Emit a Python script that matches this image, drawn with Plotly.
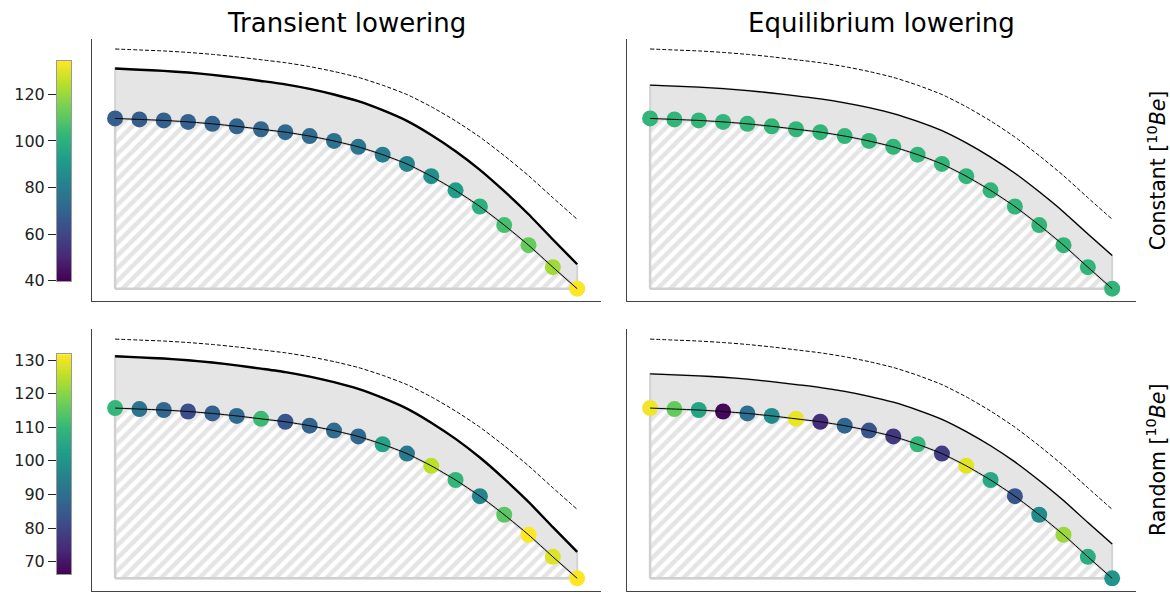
import numpy as np
import plotly.graph_objects as go

# ---- data -------------------------------------------------------------
node_distance = list(range(20))

# bedrock (sample) elevation along the profile
bed_elevation = [174, 173, 172, 170.5, 168.5, 166, 163, 160, 156, 151,
                 145, 137, 127.5, 115, 100.5, 84, 65, 44.5, 22, 0]

# overlying surfaces
surface_initial_top = [245, 244, 243, 241.5, 239.5, 237, 234, 231, 227, 222,
                       216, 208, 198.5, 186, 171.5, 155, 136, 115.5, 93, 71]
surface_transient_top = [225, 223.8, 222.6, 220.9, 218.6, 215.7, 212.3, 208.8, 204.2, 198.5,
                         191.6, 182.4, 171.5, 157.1, 140.5, 121.5, 99.7, 76.1, 50.3, 25]
surface_equilibrium_top = [208, 207, 206, 204.5, 202.5, 200, 197, 194, 190, 185,
                           179, 171, 161.5, 149, 134.5, 118, 99, 78.5, 56, 34]

surface_initial_bottom = [244.5, 243.5, 242.5, 241, 239, 236.5, 233.5, 230.5, 226.5, 221.5,
                          215.5, 207.5, 198, 185.5, 171, 154.5, 135.5, 115, 92.5, 70.5]
surface_transient_bottom = [227, 225.8, 224.6, 222.9, 220.6, 217.7, 214.3, 210.8, 206.2, 200.5,
                            193.6, 184.4, 173.5, 159.1, 142.5, 123.5, 101.7, 78.1, 52.3, 27]
surface_equilibrium_bottom = [209, 208, 207, 205.5, 203.5, 201, 198, 195, 191, 186,
                              180, 172, 162.5, 150, 135.5, 119, 100, 79.5, 57, 35]

# 10Be concentrations of the samples
be10_transient_constant = [68, 68, 68.5, 69, 69.5, 70, 71, 72, 73, 75,
                           77, 79.5, 83, 87, 93, 99, 106, 112, 121, 134]
be10_equilibrium_constant = [102, 102, 102, 102, 102, 102, 102, 102, 102, 102,
                             102, 102, 102, 102, 102, 102, 102, 102, 102, 102]
be10_transient_random = [109.5, 91.1, 87.8, 81.9, 86.5, 88.5, 110.8, 83.9, 87.2, 89.1,
                         87.8, 104.2, 92.4, 125.2, 109.5, 95.7, 114.7, 131.7, 128.5, 131.7]
be10_equilibrium_random = [130.4, 116.0, 104.2, 67.5, 89.8, 97.7, 129.8, 74.7, 87.8, 83.2,
                           77.3, 109.5, 78.0, 129.1, 105.5, 83.9, 97.7, 121.9, 106.8, 100.3]

column_titles = ["Transient lowering", "Equilibrium lowering"]
row_titles = ["Constant [<sup>10</sup><i>Be</i>]", "Random [<sup>10</sup><i>Be</i>]"]

cbar_top_range = (40, 134.4)
cbar_top_ticks = [40, 60, 80, 100, 120]
cbar_bottom_range = (66.2, 131.75)
cbar_bottom_ticks = [70, 80, 90, 100, 110, 120, 130]

# ---- layout geometry (pixels) ----------------------------------------
W, H = 1170, 603
FONT = "DejaVu Sans"


def px_x(a, b):
    return [a / W, b / W]


def px_y(top, bottom):
    return [1 - bottom / H, 1 - top / H]


col_dom = [px_x(92, 601), px_x(627, 1136)]
row_dom = [px_y(37, 305), px_y(333, 601)]
cbar_dom_x = px_x(57, 71)
cbar_dom_y = [px_y(59, 284), px_y(359, 584)]

X_RANGE = [-0.95, 19.98]
Y_RANGE = [-13, 255]

panels = [
    # row, col, initial, surface, thick, be10, crange
    (0, 0, surface_initial_top, surface_transient_top, True,
     be10_transient_constant, cbar_top_range),
    (0, 1, surface_initial_top, surface_equilibrium_top, False,
     be10_equilibrium_constant, cbar_top_range),
    (1, 0, surface_initial_bottom, surface_transient_bottom, True,
     be10_transient_random, cbar_bottom_range),
    (1, 1, surface_initial_bottom, surface_equilibrium_bottom, False,
     be10_equilibrium_random, cbar_bottom_range),
]

fig = go.Figure()
layout_axes = {}

x0, x1 = node_distance[0], node_distance[-1]
SMOOTH = dict(shape="spline", smoothing=0.5)
bed = bed_elevation

for i, (r, c, init, surf, thick, be10, crange) in enumerate(panels):
    n = i + 1
    xa = "x" if n == 1 else f"x{n}"
    ya = "y" if n == 1 else f"y{n}"

    # grey surface-to-base region
    fig.add_trace(go.Scatter(
        x=[x0] + node_distance + [x1, x0],
        y=[0] + surf + [0, 0],
        mode="lines", fill="toself", fillcolor="#e5e5e5",
        line=dict(color="#d3d3d3", width=2),
        hoverinfo="skip", showlegend=False, xaxis=xa, yaxis=ya))

    # hatched bedrock below the samples
    fig.add_trace(go.Scatter(
        x=[x0] + node_distance + [x1, x0],
        y=[0] + bed + [0, 0],
        mode="lines", fill="toself", fillcolor="white",
        fillpattern=dict(shape="/", fgcolor="#c9c9c9", bgcolor="white",
                         size=9, solidity=0.5),
        line=dict(color="#d0d0d0", width=2.5),
        hoverinfo="skip", showlegend=False, xaxis=xa, yaxis=ya))

    # initial surface
    fig.add_trace(go.Scatter(
        x=node_distance, y=init, mode="lines",
        line=dict(color="black", width=1, dash="4px,2px", **SMOOTH),
        hoverinfo="skip", showlegend=False, xaxis=xa, yaxis=ya))

    # lowered surface
    fig.add_trace(go.Scatter(
        x=node_distance, y=surf, mode="lines",
        line=dict(color="black", width=2.4 if thick else 1.3, **SMOOTH),
        hoverinfo="skip", showlegend=False, xaxis=xa, yaxis=ya))

    # samples coloured by concentration
    fig.add_trace(go.Scatter(
        x=node_distance, y=bed, mode="markers",
        marker=dict(size=16, color=be10, colorscale="Viridis",
                    cmin=crange[0], cmax=crange[1], showscale=False,
                    line=dict(width=0)),
        showlegend=False, xaxis=xa, yaxis=ya))

    # sample profile line
    fig.add_trace(go.Scatter(
        x=node_distance, y=bed, mode="lines",
        line=dict(color="black", width=1, **SMOOTH),
        hoverinfo="skip", showlegend=False, xaxis=xa, yaxis=ya))

    layout_axes[f"xaxis{n}"] = dict(
        domain=col_dom[c], range=X_RANGE, showgrid=False, zeroline=False,
        showticklabels=False, ticks="", showline=True, linecolor="#444",
        linewidth=1, anchor=ya)
    layout_axes[f"yaxis{n}"] = dict(
        domain=row_dom[r], range=Y_RANGE, showgrid=False, zeroline=False,
        showticklabels=False, ticks="", showline=True, linecolor="#444",
        linewidth=1, anchor=xa)

# colour bars drawn as thin heatmaps with ticks on the left
for k, (crange, ticks) in enumerate([(cbar_top_range, cbar_top_ticks),
                                     (cbar_bottom_range, cbar_bottom_ticks)]):
    n = 5 + k
    levels = np.linspace(crange[0], crange[1], 300)
    fig.add_trace(go.Heatmap(
        z=[[v] for v in levels], y=levels, x=[0],
        colorscale="Viridis", zmin=crange[0], zmax=crange[1],
        showscale=False, hoverinfo="skip",
        xaxis=f"x{n}", yaxis=f"y{n}"))
    layout_axes[f"xaxis{n}"] = dict(
        domain=cbar_dom_x, range=[-0.5, 0.5], showgrid=False, zeroline=False,
        showticklabels=False, ticks="", showline=True, mirror=True,
        linecolor="#9a9a9a", linewidth=1, anchor=f"y{n}")
    layout_axes[f"yaxis{n}"] = dict(
        domain=cbar_dom_y[k], range=list(crange), showgrid=False, zeroline=False,
        tickvals=ticks, ticks="outside", ticklen=8, tickwidth=1,
        tickcolor="#222", tickfont=dict(size=16, color="#222", family=FONT),
        showline=True, mirror=True, linecolor="#9a9a9a", linewidth=1,
        anchor=f"x{n}")

annotations = []
for c, title in enumerate(column_titles):
    annotations.append(dict(
        text=title, x=sum(col_dom[c]) / 2, y=1 - 20 / H,
        xref="paper", yref="paper", xanchor="center", yanchor="middle",
        showarrow=False, font=dict(size=26, color="black", family=FONT)))
for r, title in enumerate(row_titles):
    annotations.append(dict(
        text=title, x=1157 / W, y=sum(row_dom[r]) / 2,
        xref="paper", yref="paper", xanchor="center", yanchor="middle",
        textangle=-90, showarrow=False,
        font=dict(size=20.5, color="black", family=FONT)))

fig.update_layout(
    width=W, height=H,
    margin=dict(l=0, r=0, t=0, b=0),
    paper_bgcolor="white", plot_bgcolor="white",
    font=dict(family=FONT),
    annotations=annotations,
    **layout_axes)

fig.write_html("out.html")
